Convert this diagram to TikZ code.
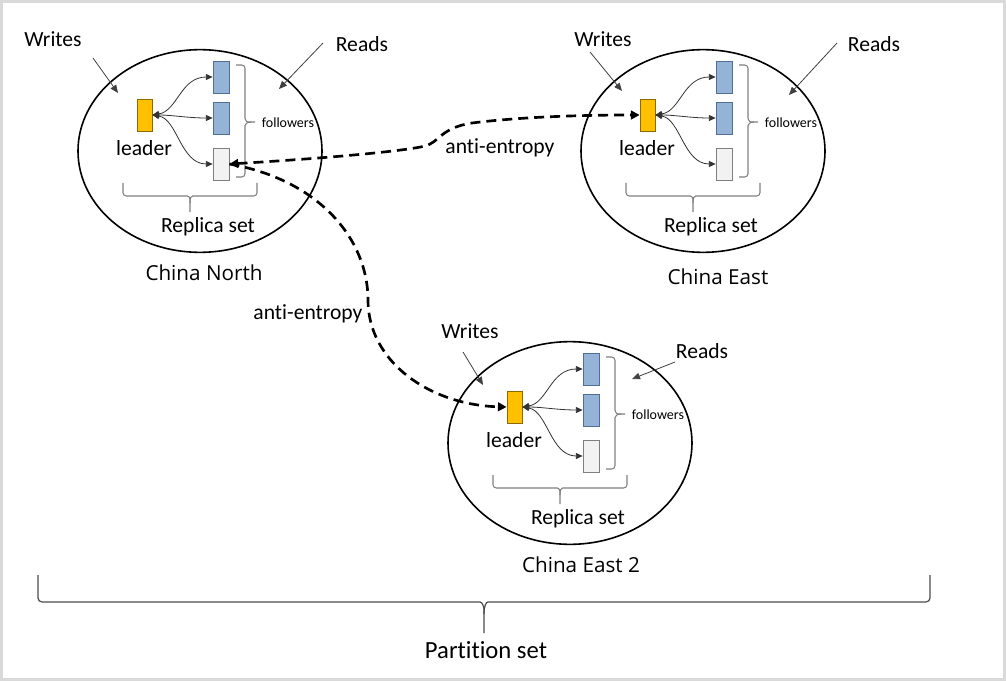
\documentclass[tikz,border=0pt]{standalone}
\usepackage{fontspec}
\setmainfont{Carlito}[Ligatures=CommonOff]
\newfontfamily\regfont{Open Sans}
\usetikzlibrary{arrows.meta,shapes.geometric}
\definecolor{ldr}{HTML}{FFC000}
\definecolor{ldrb}{HTML}{8C6A00}
\definecolor{fol}{HTML}{95B3D7}
\definecolor{folb}{HTML}{4F6E98}
\definecolor{gry}{HTML}{F2F2F2}
\definecolor{gryb}{HTML}{7F7F7F}
\definecolor{frame}{HTML}{D9D9D9}
\tikzset{
 regell/.style={draw=black, line width=1.2pt, ellipse, minimum width=183pt, minimum height=152pt, inner sep=0pt},
 leadbox/.style={draw=ldrb, fill=ldr, line width=0.6pt, minimum width=11.25pt, minimum height=24pt, inner sep=0pt},
 folbox/.style={draw=folb, fill=fol, line width=0.6pt, minimum width=12pt, minimum height=24pt, inner sep=0pt},
 grybox/.style={draw=gryb, fill=gry, line width=0.6pt, minimum width=12pt, minimum height=24pt, inner sep=0pt},
 txt/.style={font=\fontsize{16.2}{19}\selectfont, inner sep=0pt},
 smalltxt/.style={font=\fontsize{10.5}{12}\selectfont, inner sep=0pt},
 regtxt/.style={font=\regfont\fontsize{15.5}{18}\selectfont, inner sep=0pt},
 inarr/.style={draw=black!80, line width=0.6pt, {Triangle[length=5pt,width=4.5pt]}-{Triangle[length=5pt,width=4.5pt]}},
 rwarr/.style={draw=black!75, line width=0.6pt, -{Triangle[length=6pt,width=5pt]}},
 bracel/.style={draw=black!50, line width=0.8pt, rounded corners=2.5pt},
 pbrace/.style={draw=black!70, line width=0.9pt, rounded corners=3pt},
 anti/.style={draw=black, line width=2pt, dash pattern=on 7.5pt off 4.5pt},
 antitip/.style={-{Triangle[length=6.5pt,width=6.5pt]}},
 antitips/.style={{Triangle[length=6.5pt,width=6.5pt]}-{Triangle[length=6.5pt,width=6.5pt]}}
}
\newcommand\myregion[2]{%
\begin{scope}[shift={#2}]
 \node[regell] (#1e) at (200,151) {};
 \node[leadbox] (#1L) at (144.5,115) {};
 \node[folbox] (#1fa) at (221,77) {};
 \node[folbox] (#1fb) at (221,118) {};
 \node[grybox] (#1fc) at (221,164) {};
 \node[txt] (#1lt) at (144,148) {leader};
 \draw[inarr] (#1L.east) .. controls +(25,-4) and +(-32,0) .. (#1fa.west);
 \draw[inarr] (#1L.east) .. controls +(20,0) and +(-25,0) .. (#1fb.west);
 \draw[inarr] (#1L.east) .. controls +(25,4) and +(-32,0) .. (#1fc.west);
 \draw[bracel] (236,65) -- (245,65) -- (245,115) .. controls (245,120) and (247,122) .. (251,122) -- (255,122);
 \draw[bracel] (236,177) -- (245,177) -- (245,129) .. controls (245,124) and (247,122) .. (251,122);
 \node[smalltxt] (#1ft) at (288,123) {followers};
 \draw[bracel] (123,183) -- (123,196) -- (184,196) .. controls (189,196) and (190,198) .. (190,203) -- (190,212);
 \draw[bracel] (257,183) -- (257,196) -- (196,196) .. controls (191,196) and (190,198) .. (190,203);
 \node[txt] (#1rt) at (208,227) {Replica set};
\end{scope}}
\begin{document}
\begin{tikzpicture}[x=0.75pt,y=-0.75pt]
\useasboundingbox (0,0) rectangle (1006,681);
\fill[frame] (0,0) rectangle (1006,681);
\fill[white] (3,3) rectangle (1003,678);

\myregion{N}{(0,0)}
\myregion{E}{(503,0)}
\myregion{S}{(370,292)}

% region labels
\node[regtxt] (Nlab) at (204,273) {China North};
\node[regtxt] (Elab) at (718,277) {China East};
\node[regtxt] (Slab) at (581,565) {China East 2};

% writes / reads
\node[txt] (Nw) at (53,39) {Writes};
\node[txt] (Nr) at (362,44) {Reads};
\node[txt] (Ew) at (603,39) {Writes};
\node[txt] (Er) at (874,44) {Reads};
\node[txt] (Sw) at (470,331) {Writes};
\node[txt] (Sr) at (702,351) {Reads};
\coordinate (Nw1) at (93,58);  \coordinate (Nw2) at (118,93);
\coordinate (Nr1) at (323,43); \coordinate (Nr2) at (279,89);
\coordinate (Ew1) at (590,52); \coordinate (Ew2) at (622,91);
\coordinate (Er1) at (837,43); \coordinate (Er2) at (789,95);
\coordinate (Sw1) at (463,352); \coordinate (Sw2) at (483,385);
\coordinate (Sr1) at (675,362); \coordinate (Sr2) at (632,379);
\draw[rwarr] (Nw1) -- (Nw2);
\draw[rwarr] (Nr1) -- (Nr2);
\draw[rwarr] (Ew1) -- (Ew2);
\draw[rwarr] (Er1) -- (Er2);
\draw[rwarr] (Sw1) -- (Sw2);
\draw[rwarr] (Sr1) -- (Sr2);

% anti-entropy
\draw[anti,antitips] (Nfc.east) .. controls (330,158) and (405,151) .. (425,146)
   .. controls (440,142) and (440,128) .. (472,123) .. controls (520,117) and (580,115) .. (EL.west);
\draw[anti,antitip] (Nfc.east) .. controls (320,180) and (368,240) .. (368,300)
   .. controls (368,362) and (430,405) .. (SL.west);
\node[txt] (ae1) at (500,148) {anti-entropy};
\node[txt] (ae2) at (308,314) {anti-entropy};

% partition set
\draw[pbrace] (38,575) -- (38,602) -- (476,602) .. controls (482,602) and (484,606) .. (484,614) -- (484,633);
\draw[pbrace] (930,575) -- (930,602) -- (492,602) .. controls (486,602) and (484,606) .. (484,614);
\node[font=\fontsize{18.5}{22}\selectfont, inner sep=0pt] (pset) at (486,650) {Partition set};
\end{tikzpicture}
\end{document}
